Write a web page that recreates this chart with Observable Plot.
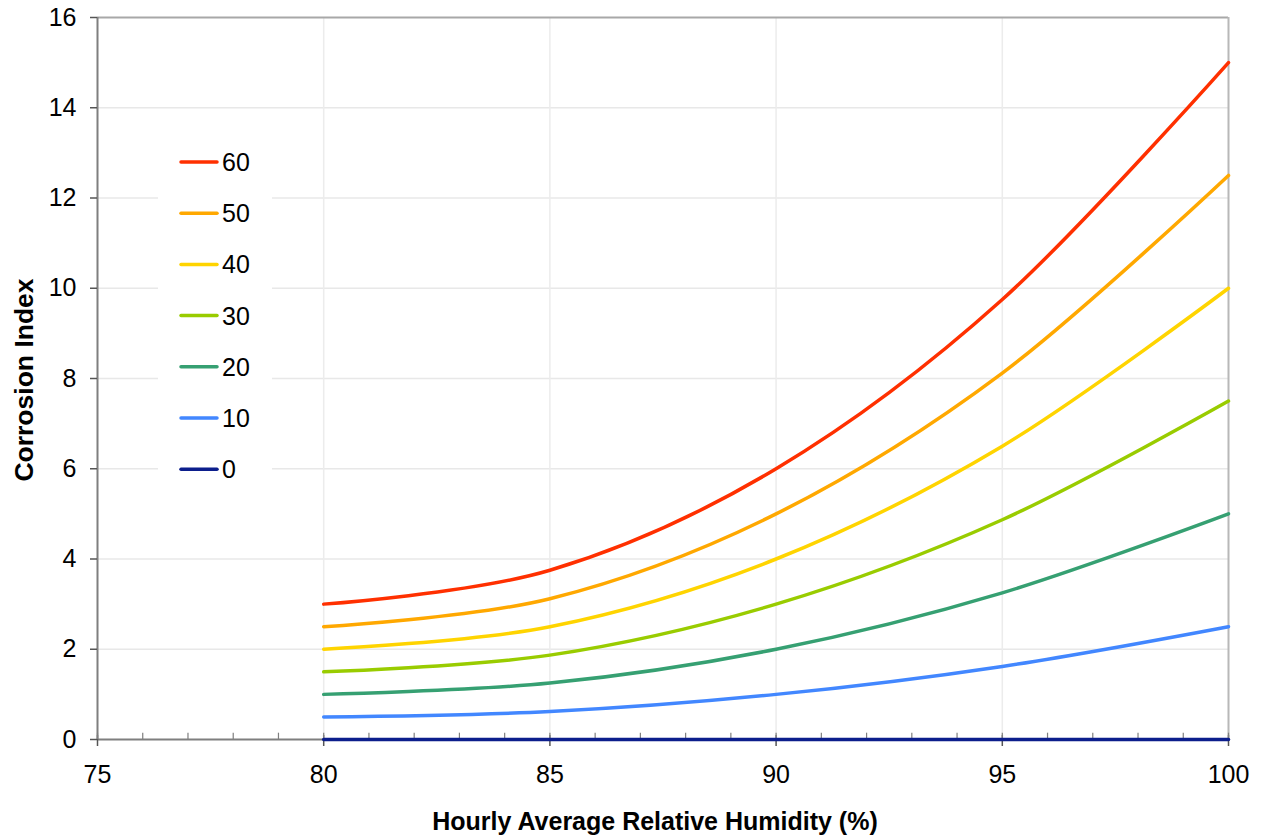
<!DOCTYPE html>
<html>
<head>
<meta charset="utf-8">
<script src="https://cdn.jsdelivr.net/npm/d3@7"></script>
<script src="https://cdn.jsdelivr.net/npm/@observablehq/plot@0.6"></script>
<style>
  html, body { margin: 0; padding: 0; background: #fff; }
  #chart { width: 1263px; height: 839px; }
  svg { font-family: "Liberation Sans", Arial, sans-serif; }
</style>
</head>
<body>
<div id="chart"></div>
<script>
// ---- data ----
const humidity = [80, 85, 90, 95, 100];
const series0  = [0, 0, 0, 0, 0];
const series10 = [0.5, 0.62, 1.0, 1.62, 2.5];
const series20 = [1.0, 1.25, 2.0, 3.25, 5.0];
const series30 = [1.5, 1.87, 3.0, 4.87, 7.5];
const series40 = [2.0, 2.5, 4.0, 6.5, 10.0];
const series50 = [2.5, 3.12, 5.0, 8.12, 12.5];
const series60 = [3.0, 3.75, 6.0, 9.75, 15.0];
const seriesNames = ["60", "50", "40", "30", "20", "10", "0"];
const seriesValues = [series60, series50, series40, series30, series20, series10, series0];
const seriesColors = ["#ff3000", "#ffa800", "#ffd400", "#99cc00", "#36a072", "#4287ff", "#0c1e8c"];
const xTicks = [75, 80, 85, 90, 95, 100];
const xMinorTicks = d3.range(75, 101, 1);
const xGrid = [80, 85, 90, 95];
const yTicks = [0, 2, 4, 6, 8, 10, 12, 14, 16];
const yGrid = [2, 4, 6, 8, 10, 12, 14];
const xTitle = "Hourly Average Relative Humidity (%)";
const yTitle = "Corrosion Index";

// build long table
const rows = [];
seriesNames.forEach((name, i) => {
  humidity.forEach((h, j) => rows.push({series: name, rh: h, value: seriesValues[i][j]}));
});
const colorOf = Object.fromEntries(seriesNames.map((n, i) => [n, seriesColors[i]]));
const drawOrder = [...seriesNames].reverse(); // 0 first, 60 on top

const W = 1263, H = 839;
const mL = 97, mR = 35, mT = 17, mB = 100;

const plot = Plot.plot({
  width: W,
  height: H,
  marginLeft: mL,
  marginRight: mR,
  marginTop: mT,
  marginBottom: mB,
  style: {fontFamily: '"Liberation Sans", Arial, sans-serif', background: "#fff"},
  x: {domain: [75, 100]},
  y: {domain: [0, 16]},
  marks: [
    Plot.ruleY(yGrid, {stroke: "#e8e8e8", strokeWidth: 1.5}),
    Plot.ruleX(xGrid, {stroke: "#ececec", strokeWidth: 1.5}),
    Plot.ruleY([16], {stroke: "#a8a8a8", strokeWidth: 2}),
    Plot.ruleX([100], {stroke: "#b8b8b8", strokeWidth: 2}),
    Plot.ruleX([75], {stroke: "#7f7f7f", strokeWidth: 2}),
    Plot.ruleY([0], {stroke: "#7f7f7f", strokeWidth: 2}),
    // minor ticks (upward)
    Plot.ruleX(xMinorTicks, {y1: 0, y2: 0.14, stroke: "#7f7f7f", strokeWidth: 1.2}),
    // major ticks: upward part
    Plot.ruleX(xTicks, {y1: 0, y2: 0.09, stroke: "#7f7f7f", strokeWidth: 1.5}),
    Plot.axisX(xTicks, {tickSize: 7, tickPadding: 19, fontSize: 25, label: null, stroke: "#555", strokeWidth: 1.5, fill: "#000"}),
    Plot.axisY(yTicks, {tickSize: 7, tickPadding: 14, fontSize: 25, label: null, stroke: "#555", strokeWidth: 1.5, fill: "#000"}),
    ...drawOrder.map(name =>
      Plot.line(rows.filter(d => d.series === name), {
        x: "rh", y: "value", stroke: colorOf[name], strokeWidth: 3.5, curve: "cardinal"
      })
    )
  ]
});

document.getElementById("chart").appendChild(plot);

const svg = d3.select(plot);

// axis titles
svg.append("text")
  .attr("x", 655).attr("y", 830)
  .attr("text-anchor", "middle")
  .attr("font-size", 25).attr("font-weight", "bold")
  .attr("fill", "#000")
  .text(xTitle);

svg.append("text")
  .attr("transform", "translate(33,380) rotate(-90)")
  .attr("text-anchor", "middle")
  .attr("font-size", 26.5).attr("font-weight", "bold")
  .attr("fill", "#000")
  .text(yTitle);

// legend inside plot area
const lg = svg.append("g").attr("text-anchor", "start");
lg.append("rect").attr("x", 158).attr("y", 138).attr("width", 114).attr("height", 356).attr("fill", "#fff");
seriesNames.forEach((name, i) => {
  const cy = 162 + i * 51.2;
  lg.append("line").attr("x1", 181).attr("x2", 217).attr("y1", cy).attr("y2", cy)
    .attr("stroke", colorOf[name]).attr("stroke-width", 3.5).attr("stroke-linecap", "round");
  lg.append("text").attr("x", 222).attr("y", cy).attr("dy", "0.36em")
    .attr("text-anchor", "start")
    .attr("font-size", 25).attr("fill", "#000").text(name);
});
</script>
</body>
</html>
